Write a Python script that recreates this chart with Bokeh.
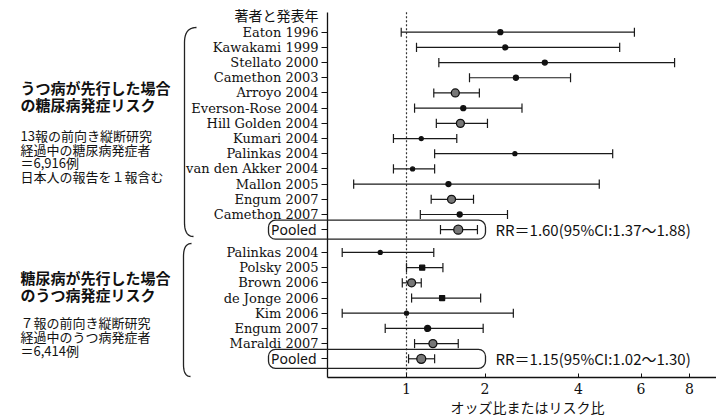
import numpy as np
from bokeh.plotting import figure
from bokeh.models import (Range1d, FixedTicker, CustomJSTickFormatter, CustomJSTransform,
                          ColumnDataSource, Label, BoxAnnotation, PolyAnnotation)
from bokeh.transform import transform, dodge
from bokeh.embed import file_html
from bokeh.resources import INLINE

# ---------------- data ----------------
studies1 = ["Eaton 1996", "Kawakami 1999", "Stellato 2000", "Camethon 2003", "Arroyo 2004",
            "Everson-Rose 2004", "Hill Golden 2004", "Kumari 2004", "Palinkas 2004",
            "van den Akker 2004", "Mallon 2005", "Engum 2007", "Camethon 2007", "Pooled"]
est1 = [2.26, 2.35, 3.16, 2.55, 1.56, 1.67, 1.63, 1.15, 2.53, 1.06, 1.47, 1.51, 1.62, 1.60]
lo1 = [0.95, 1.10, 1.35, 1.76, 1.29, 1.08, 1.32, 0.88, 1.30, 0.88, 0.58, 1.26, 1.14, 1.37]
hi1 = [5.76, 5.25, 7.34, 3.79, 1.91, 2.67, 2.04, 1.58, 5.02, 1.30, 4.60, 1.82, 2.39, 1.88]

studies2 = ["Palinkas 2004", "Polsky 2005", "Brown 2006", "de Jonge 2006", "Kim 2006",
            "Engum 2007", "Maraldi 2007", "Pooled"]
est2 = [0.77, 1.16, 1.05, 1.39, 1.00, 1.22, 1.28, 1.15]
lo2 = [0.51, 1.00, 0.96, 1.05, 0.51, 0.81, 1.08, 1.02]
hi2 = [1.29, 1.40, 1.15, 1.93, 2.50, 1.97, 1.60, 1.30]

x_ticks = [1, 2, 4, 6, 8]
ref_value = 1.0

rr_text1 = "RR＝1.60(95%CI:1.37～1.88)"
rr_text2 = "RR＝1.15(95%CI:1.02～1.30)"
header = "著者と発表年"
x_title = "オッズ比またはリスク比"
group1_title = ["うつ病が先行した場合", "の糖尿病発症リスク"]
group1_desc = ["13報の前向き縦断研究", "経過中の糖尿病発症者", "＝6,916例", "日本人の報告を１報含む"]
group2_title = ["糖尿病が先行した場合", "のうつ病発症リスク"]
group2_desc = ["７報の前向き縦断研究", "経過中のうつ病発症者", "＝6,414例"]

# ---------------- styles ----------------
marker1 = ["circle"] * 14
size1 = [5, 5, 5, 5, 8, 5, 8, 4, 4, 4, 5, 8, 5, 9]
fill1 = ["#111", "#111", "#111", "#111", "#777", "#111", "#777", "#111", "#111", "#111",
         "#111", "#777", "#111", "#777"]
marker2 = ["circle", "square", "circle", "square", "circle", "circle", "circle", "circle"]
size2 = [4, 5, 8, 5, 4, 6, 8, 9]
fill2 = ["#111", "#111", "#777", "#111", "#111", "#111", "#777", "#777"]

# ---------------- layout geometry (page pixels -> data) ----------------
W, H = 716, 417                # canvas (the page template has no body margin)
PX_PER_UNIT = 415.0            # pixels per unit of x**0.25
ONE_PX = 406                   # page x of value 1
ROW0_PY = 31.7                 # page y of first row
ROW_PX = 7.595                 # page pixels per row unit


def px2x(px):
    return 1 + (px - ONE_PX) / PX_PER_UNIT


def py2y(py):
    return (py - ROW0_PY) / ROW_PX


X0, X1 = px2x(0), px2x(W)
Y_TOP, Y_BOT = py2y(0), py2y(H)
AXIS_LEFT = px2x(327)
AXIS_TOP = py2y(11.7)
AXIS_BOTTOM = py2y(376.7)

rows1 = [2 * i for i in range(len(studies1))]
rows2 = [29 + 2 * i for i in range(len(studies2))]

src = ColumnDataSource(dict(
    name=studies1 + studies2,
    est=est1 + est2, lo=lo1 + lo2, hi=hi1 + hi2,
    y=rows1 + rows2,
    marker=marker1 + marker2, size=size1 + size2, fill=fill1 + fill2,
))

root4 = CustomJSTransform(func="return Math.pow(x, 0.25)",
                          v_func="return xs.map((v) => Math.pow(v, 0.25))")

p = figure(width=W, height=H,
           x_range=Range1d(X0, X1), y_range=Range1d(Y_BOT, Y_TOP),
           output_backend="svg", toolbar_location=None,
           min_border=0, background_fill_color="white", border_fill_color="white")
p.outline_line_color = None
p.grid.visible = False

# reference line at 1
ref_src = ColumnDataSource(dict(v=[ref_value], y0=[AXIS_TOP], y1=[AXIS_BOTTOM]))
p.segment(x0=transform("v", root4), y0="y0", x1=transform("v", root4), y1="y1",
          source=ref_src, line_dash="2 2", line_color="#333", line_width=1.2)

# CI lines and caps
p.segment(x0=transform("lo", root4), y0="y", x1=transform("hi", root4), y1="y",
          source=src, line_color="#1a1a1a", line_width=1.2)
for col in ("lo", "hi"):
    p.segment(x0=transform(col, root4), y0=dodge("y", -0.6),
              x1=transform(col, root4), y1=dodge("y", 0.6),
              source=src, line_color="#1a1a1a", line_width=1.2)
p.scatter(x=transform("est", root4), y="y", marker="marker", size="size",
          fill_color="fill", line_color="#111", line_width=1.3, source=src)

# axes (placed inside the frame)
serif = "DejaVu Serif"
p.yaxis.fixed_location = AXIS_LEFT
p.yaxis.bounds = (AXIS_TOP, AXIS_BOTTOM)
p.yaxis.ticker = FixedTicker(ticks=rows1 + rows2)
p.yaxis.major_label_overrides = {r: ("" if n == "Pooled" else n)
                                 for r, n in zip(rows1 + rows2, studies1 + studies2)}
p.yaxis.major_label_text_font = serif
p.yaxis.major_label_text_font_size = "13px"
p.yaxis.major_label_text_color = "#111"
p.yaxis.major_tick_out = 6
p.yaxis.major_tick_in = 0
p.yaxis.minor_tick_line_color = None
p.yaxis.major_label_standoff = 3
p.yaxis.axis_line_width = 1.3
p.yaxis.axis_line_color = "#111"
p.yaxis.major_tick_line_color = "#111"

p.xaxis.fixed_location = AXIS_BOTTOM
p.xaxis.bounds = (AXIS_LEFT, X1)
p.xaxis.ticker = FixedTicker(ticks=[v ** 0.25 for v in x_ticks])
p.xaxis.formatter = CustomJSTickFormatter(code="return Math.round(Math.pow(tick, 4)).toString()")
p.xaxis.major_label_text_font = serif
p.xaxis.major_label_text_font_size = "14px"
p.xaxis.major_label_text_color = "#111"
p.xaxis.major_tick_in = 4
p.xaxis.major_tick_out = 0
p.xaxis.minor_tick_line_color = None
p.xaxis.major_label_standoff = 6
p.xaxis.axis_line_width = 1.3
p.xaxis.axis_line_color = "#111"
p.xaxis.major_tick_line_color = "#111"

jp = "Noto Sans CJK JP"


def label(text, px, py, size, align="left", font=jp, style="normal", y=None):
    p.add_layout(Label(x=px2x(px), y=(py2y(py) if y is None else y), text=text,
                       text_align=align, text_baseline="middle",
                       text_font=font, text_font_size=size, text_font_style=style,
                       text_color="#111"))


label(header, 318, 14, "14px", align="right")
for i, t in enumerate(group1_title):
    label(t, 20, 87 + 16.6 * i, "15px", style="bold")
for i, t in enumerate(group1_desc):
    label(t, 20, 135 + 13.7 * i, "13px")
for i, t in enumerate(group2_title):
    label(t, 20, 277 + 16.6 * i, "15px", style="bold")
for i, t in enumerate(group2_desc):
    label(t, 20, 322 + 14.2 * i, "13px")

# pooled labels, boxes and RR text
for r, rr in ((rows1[-1], rr_text1), (rows2[-1], rr_text2)):
    label("Pooled", 316, 0, "14px", align="right", font="Noto Sans", y=r)
    label(rr, 495, 0, "15px", y=r)
    p.add_layout(BoxAnnotation(left=px2x(268), right=px2x(485), top=r - 1.25, bottom=r + 1.25,
                               fill_color=None, fill_alpha=0, line_color="#222", line_alpha=1,
                               line_width=1.3, border_radius=7))

label(x_title, 527, 406, "14px", align="center")


# braces
def brace(x_top, y_top, x_line, y_a, y_b, x_bot, y_bot):
    t = np.linspace(0, 1, 12)
    tx = (1 - t) ** 2 * x_top + 2 * (1 - t) * t * x_line + t ** 2 * x_line
    ty = (1 - t) ** 2 * y_top + 2 * (1 - t) * t * y_top + t ** 2 * y_a
    bx = (1 - t) ** 2 * x_line + 2 * (1 - t) * t * x_line + t ** 2 * x_bot
    by = (1 - t) ** 2 * y_b + 2 * (1 - t) * t * y_bot + t ** 2 * y_bot
    xs = list(tx) + list(bx)
    ys = list(ty) + list(by)
    xs = xs + xs[::-1]
    ys = ys + ys[::-1]
    p.add_layout(PolyAnnotation(xs=[px2x(v) for v in xs], ys=[py2y(v) for v in ys],
                                fill_color=None, fill_alpha=0, line_color="#222",
                                line_alpha=1, line_width=1.3))


brace(196, 27, 184, 42, 222, 193, 236)
brace(191, 243, 183, 256, 364, 190, 376)

open("out.html", "w").write(file_html(p, INLINE))
